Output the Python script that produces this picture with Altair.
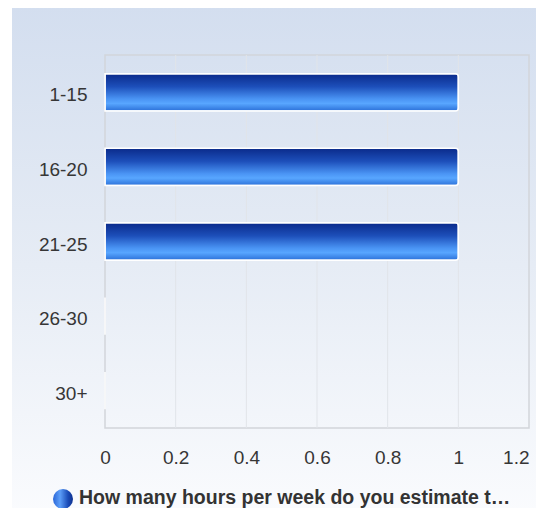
import altair as alt
import pandas as pd

# ---- data ----
categories = ["1-15", "16-20", "21-25", "26-30", "30+"]
values = [1, 1, 1, 0, 0]
x_ticks = [0, 0.2, 0.4, 0.6, 0.8, 1, 1.2]
grid_values = [0.2, 0.4, 0.6, 0.8, 1.0]
legend_label = ["How many hours per week do you estimate t\u2026"]

W, H = 424, 373
FONT = "Liberation Sans"
TXT = "#363636"

bars_df = pd.DataFrame({"cat": categories, "value": values})
grid_df = pd.DataFrame({"value": grid_values})
one = pd.DataFrame({"label": legend_label})

x_enc = alt.X(
    "value:Q",
    scale=alt.Scale(domain=[0, 1.2], nice=False, zero=True),
    axis=alt.Axis(
        values=x_ticks,
        format="~g",
        title=None,
        grid=False,
        ticks=False,
        domain=False,
        labelFont=FONT,
        labelFontSize=19,
        labelColor=TXT,
        labelPadding=29,
        labelBaseline="middle",
        labelAlign=alt.condition("datum.value >= 1.19", alt.value("right"), alt.value("center")),
        zindex=2,
    ),
)

bg = alt.Chart(one).mark_rect(
    fill=alt.Gradient(
        gradient="linear",
        x1=0, x2=0, y1=0, y2=1,
        stops=[
            alt.GradientStop(color="#d3deef", offset=0),
            alt.GradientStop(color="#e6ecf5", offset=0.5),
            alt.GradientStop(color="#fbfcfe", offset=1),
        ],
    )
).encode(x=alt.value(-93), x2=alt.value(450), y=alt.value(-49), y2=alt.value(470))

frame = alt.Chart(one).mark_rect(
    fill="transparent", stroke="#d2d5da", strokeWidth=1.5
).encode(x=alt.value(0), x2=alt.value(W), y=alt.value(0), y2=alt.value(H))

grid = alt.Chart(grid_df).mark_rule(color="#e1e4e9", strokeWidth=1).encode(
    x=x_enc, y=alt.value(0), y2=alt.value(H)
)

bars = alt.Chart(bars_df).mark_bar(
    cornerRadiusEnd=3,
    stroke="white",
    strokeWidth=1.5,
    fill=alt.Gradient(
        gradient="linear",
        x1=0, x2=0, y1=0, y2=1,
        stops=[
            alt.GradientStop(color="#0a2a8a", offset=0),
            alt.GradientStop(color="#1d4fba", offset=0.35),
            alt.GradientStop(color="#4a94f4", offset=0.68),
            alt.GradientStop(color="#58a6ff", offset=0.8),
            alt.GradientStop(color="#2b70d8", offset=1),
        ],
    ),
).encode(
    x=x_enc,
    y=alt.Y(
        "cat:N",
        sort=categories,
        scale=alt.Scale(paddingInner=0.5, paddingOuter=0.25),
        axis=alt.Axis(
            title=None,
            grid=False,
            ticks=False,
            domain=False,
            labelFont=FONT,
            labelFontSize=19,
            labelColor=TXT,
            labelPadding=18,
            labelBaseline="middle",
            labelOffset=3,
            zindex=2,
        ),
    ),
)

legend_dot = alt.Chart(one).mark_point(
    shape="circle",
    filled=True,
    size=400,
    opacity=1,
    fill=alt.Gradient(
        gradient="linear",
        x1=0, x2=1, y1=0, y2=0,
        stops=[
            alt.GradientStop(color="#2a66d8", offset=0),
            alt.GradientStop(color="#5c9ef8", offset=0.35),
            alt.GradientStop(color="#1a4cb8", offset=0.75),
            alt.GradientStop(color="#10318e", offset=1),
        ],
    ),
).encode(x=alt.value(-42), y=alt.value(444))

legend_text = alt.Chart(one).mark_text(
    align="left", baseline="alphabetic", font=FONT, fontSize=19.5, fontWeight="bold", color="#333333"
).encode(x=alt.value(-26), y=alt.value(449), text="label:N")

chart = (
    alt.layer(bg, frame, grid, bars, legend_dot, legend_text)
    .properties(
        width=W,
        height=H,
        autosize=alt.AutoSizeParams(type="none"),
        padding={"left": 97, "top": 47, "right": 7, "bottom": 80},
        background="white",
    )
    .configure_view(stroke=None)
)

chart.save("out.html", embed_options={"renderer": "svg", "actions": False})
